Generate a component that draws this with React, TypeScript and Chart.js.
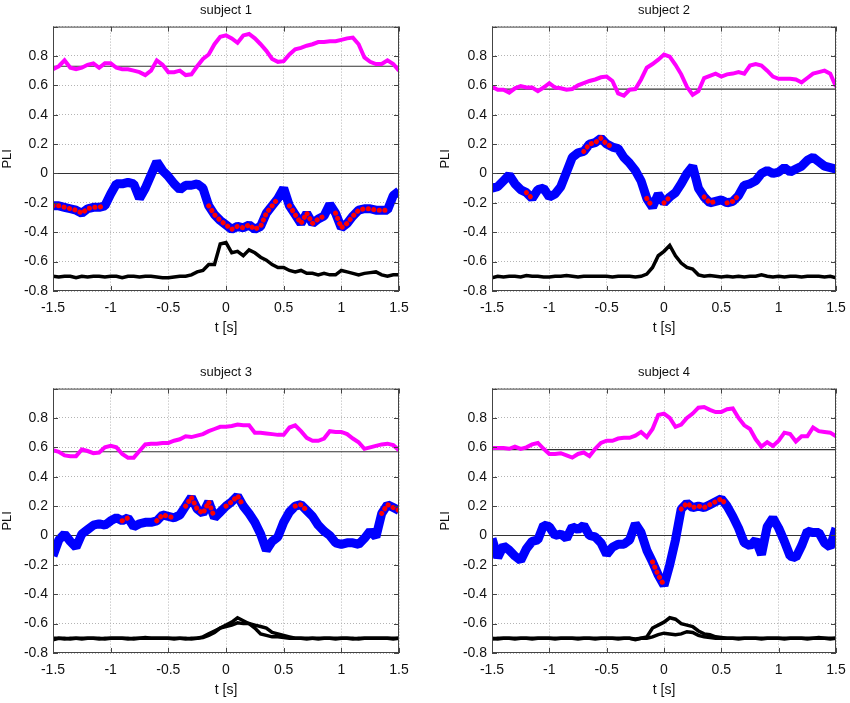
import { useEffect, useRef } from "react"
import { Chart, registerables } from "chart.js"

Chart.register(...registerables)

// time axis [s]
const T = [
  -1.5, -1.45, -1.4, -1.35, -1.3, -1.25, -1.2, -1.15, -1.1, -1.05,
  -1, -0.95, -0.9, -0.85, -0.8, -0.75, -0.7, -0.65, -0.6, -0.55,
  -0.5, -0.45, -0.4, -0.35, -0.3, -0.25, -0.2, -0.15, -0.1, -0.05,
  0, 0.05, 0.1, 0.15, 0.2, 0.25, 0.3, 0.35, 0.4, 0.45,
  0.5, 0.55, 0.6, 0.65, 0.7, 0.75, 0.8, 0.85, 0.9, 0.95,
  1, 1.05, 1.1, 1.15, 1.2, 1.25, 1.3, 1.35, 1.4, 1.45, 1.5,
]

// subject 1
const s1Upper = [
  0.71, 0.73, 0.77, 0.72, 0.71, 0.72, 0.74, 0.75, 0.72, 0.75,
  0.75, 0.72, 0.71, 0.71, 0.70, 0.69, 0.67, 0.70, 0.77, 0.74,
  0.69, 0.69, 0.70, 0.67, 0.675, 0.73, 0.78, 0.81, 0.88, 0.93,
  0.94, 0.92, 0.89, 0.94, 0.95, 0.92, 0.88, 0.835, 0.78, 0.76,
  0.765, 0.81, 0.845, 0.855, 0.87, 0.88, 0.895, 0.895, 0.9, 0.9,
  0.91, 0.92, 0.925, 0.88, 0.79, 0.76, 0.745, 0.745, 0.77, 0.745, 0.70,
]
const s1Pli = [
  -0.22, -0.22, -0.23, -0.24, -0.25, -0.27, -0.24, -0.23, -0.23, -0.22,
  -0.14, -0.07, -0.07, -0.06, -0.07, -0.17, -0.10, -0.01, 0.08, 0.02,
  -0.02, -0.07, -0.11, -0.08, -0.08, -0.07, -0.10, -0.22, -0.28, -0.32,
  -0.35, -0.38, -0.36, -0.37, -0.35, -0.38, -0.36, -0.27, -0.22, -0.17,
  -0.10, -0.22, -0.28, -0.34, -0.27, -0.34, -0.31, -0.29, -0.21, -0.27,
  -0.37, -0.34, -0.29, -0.25, -0.24, -0.24, -0.25, -0.25, -0.25, -0.15, -0.12,
]
const s1Lower = [
  -0.70, -0.705, -0.70, -0.70, -0.71, -0.70, -0.705, -0.70, -0.70, -0.705,
  -0.70, -0.70, -0.71, -0.70, -0.70, -0.705, -0.70, -0.70, -0.705, -0.71,
  -0.71, -0.705, -0.70, -0.70, -0.69, -0.67, -0.66, -0.62, -0.62, -0.48,
  -0.47, -0.54, -0.53, -0.56, -0.52, -0.54, -0.57, -0.59, -0.62, -0.64,
  -0.64, -0.66, -0.67, -0.66, -0.68, -0.68, -0.69, -0.68, -0.69, -0.69,
  -0.66, -0.67, -0.68, -0.69, -0.68, -0.675, -0.67, -0.69, -0.70, -0.69, -0.69,
]
const s1Sig = [[-1.5, -1.05], [-0.15, 0.45], [0.55, 0.85], [0.95, 1.4]]

// subject 2
const s2Upper = [
  0.59, 0.57, 0.57, 0.55, 0.58, 0.595, 0.585, 0.585, 0.56, 0.585,
  0.615, 0.585, 0.58, 0.57, 0.575, 0.60, 0.615, 0.63, 0.64, 0.655,
  0.66, 0.63, 0.545, 0.53, 0.57, 0.575, 0.64, 0.72, 0.745, 0.775,
  0.81, 0.795, 0.74, 0.675, 0.59, 0.535, 0.56, 0.65, 0.665, 0.68,
  0.66, 0.675, 0.68, 0.69, 0.68, 0.735, 0.745, 0.735, 0.70, 0.66,
  0.645, 0.645, 0.645, 0.64, 0.62, 0.65, 0.68, 0.69, 0.70, 0.68, 0.59,
]
const s2Pli = [
  -0.10, -0.09, -0.05, -0.01, -0.07, -0.11, -0.13, -0.17, -0.11, -0.10,
  -0.16, -0.14, -0.09, 0.01, 0.11, 0.14, 0.15, 0.20, 0.21, 0.24,
  0.20, 0.18, 0.17, 0.11, 0.07, 0.02, -0.05, -0.17, -0.23, -0.14,
  -0.20, -0.16, -0.13, -0.07, 0.0, 0.05, -0.10, -0.16, -0.20, -0.19,
  -0.18, -0.20, -0.19, -0.15, -0.08, -0.07, -0.05, 0.0, 0.02, 0.0,
  0.01, 0.04, 0.01, 0.03, 0.05, 0.09, 0.11, 0.08, 0.05, 0.04, 0.03,
]
const s2Lower = [
  -0.71, -0.70, -0.705, -0.70, -0.70, -0.705, -0.695, -0.70, -0.70, -0.705,
  -0.705, -0.70, -0.70, -0.695, -0.70, -0.705, -0.70, -0.70, -0.70, -0.70,
  -0.70, -0.705, -0.70, -0.70, -0.70, -0.705, -0.70, -0.685, -0.64, -0.56,
  -0.53, -0.49, -0.56, -0.61, -0.64, -0.65, -0.69, -0.70, -0.695, -0.70,
  -0.705, -0.70, -0.705, -0.70, -0.705, -0.70, -0.70, -0.69, -0.70, -0.705,
  -0.70, -0.705, -0.70, -0.70, -0.705, -0.70, -0.70, -0.70, -0.705, -0.70, -0.71,
]
const s2Sig = [[-1.2, -1.15], [-0.7, -0.45], [-0.15, -0.1], [0, 0.05], [0.35, 0.45], [0.55, 0.65]]

// subject 3
const s3Upper = [
  0.58, 0.57, 0.545, 0.54, 0.54, 0.585, 0.575, 0.56, 0.565, 0.60,
  0.61, 0.60, 0.555, 0.53, 0.53, 0.575, 0.62, 0.625, 0.625, 0.63,
  0.63, 0.645, 0.655, 0.675, 0.67, 0.68, 0.69, 0.71, 0.725, 0.74,
  0.74, 0.745, 0.755, 0.75, 0.75, 0.70, 0.70, 0.695, 0.69, 0.685,
  0.685, 0.735, 0.75, 0.71, 0.665, 0.645, 0.645, 0.66, 0.71, 0.705,
  0.705, 0.69, 0.66, 0.635, 0.59, 0.60, 0.61, 0.62, 0.625, 0.615, 0.58,
]
const s3Pli = [
  -0.14, -0.03, 0.01, -0.04, -0.08, 0.01, 0.04, 0.07, 0.08, 0.07,
  0.10, 0.12, 0.10, 0.12, 0.06, 0.08, 0.09, 0.09, 0.10, 0.14,
  0.13, 0.12, 0.14, 0.20, 0.26, 0.18, 0.15, 0.23, 0.12, 0.16,
  0.20, 0.23, 0.27, 0.20, 0.15, 0.09, 0.01, -0.10, -0.04, -0.01,
  0.09, 0.16, 0.20, 0.21, 0.17, 0.13, 0.07, 0.03, 0.0, -0.05,
  -0.06, -0.05, -0.05, -0.06, -0.02, 0.03, -0.01, 0.15, 0.21, 0.19, 0.17,
]
const s3Lower = [
  -0.71, -0.70, -0.705, -0.70, -0.70, -0.705, -0.70, -0.70, -0.70, -0.705,
  -0.70, -0.70, -0.70, -0.705, -0.70, -0.70, -0.695, -0.70, -0.70, -0.70,
  -0.70, -0.705, -0.70, -0.70, -0.705, -0.70, -0.695, -0.68, -0.66, -0.63,
  -0.61, -0.59, -0.56, -0.58, -0.60, -0.63, -0.67, -0.68, -0.69, -0.69,
  -0.695, -0.70, -0.70, -0.70, -0.705, -0.70, -0.70, -0.70, -0.70, -0.705,
  -0.70, -0.70, -0.70, -0.705, -0.70, -0.70, -0.70, -0.70, -0.70, -0.705, -0.70,
]
const s3Lower2 = [
  -0.70, -0.70, -0.70, -0.705, -0.70, -0.70, -0.70, -0.70, -0.705, -0.70,
  -0.70, -0.70, -0.70, -0.70, -0.705, -0.70, -0.70, -0.70, -0.70, -0.70,
  -0.70, -0.70, -0.70, -0.705, -0.70, -0.70, -0.69, -0.67, -0.65, -0.63,
  -0.62, -0.61, -0.595, -0.60, -0.60, -0.61, -0.62, -0.63, -0.66, -0.67,
  -0.68, -0.69, -0.70, -0.70, -0.70, -0.70, -0.705, -0.70, -0.70, -0.70,
  -0.70, -0.70, -0.705, -0.70, -0.70, -0.70, -0.70, -0.70, -0.70, -0.70, -0.70,
]
const s3Sig = [[-0.9, -0.85], [-0.6, -0.55], [-0.5, -0.45], [-0.35, -0.25], [-0.2, -0.1], [0, 0.15], [0.6, 0.7], [1.35, 1.5]]

// subject 4
const s4Upper = [
  0.595, 0.595, 0.595, 0.59, 0.605, 0.59, 0.60, 0.62, 0.63, 0.59,
  0.555, 0.555, 0.56, 0.545, 0.53, 0.555, 0.565, 0.54, 0.59, 0.63,
  0.645, 0.645, 0.66, 0.665, 0.665, 0.68, 0.705, 0.67, 0.725, 0.82,
  0.83, 0.80, 0.74, 0.755, 0.80, 0.83, 0.87, 0.875, 0.855, 0.84,
  0.84, 0.86, 0.865, 0.80, 0.75, 0.725, 0.655, 0.605, 0.635, 0.61,
  0.645, 0.70, 0.69, 0.64, 0.675, 0.675, 0.735, 0.71, 0.705, 0.70, 0.675,
]
const s4Pli = [
  -0.02, -0.15, -0.07, -0.10, -0.14, -0.17, -0.09, -0.04, -0.03, 0.07,
  0.06, 0.0, 0.01, -0.02, 0.06, 0.04, 0.07, 0.0, -0.01, -0.05,
  -0.13, -0.08, -0.06, -0.06, -0.03, 0.08, 0.02, -0.10, -0.18, -0.27,
  -0.34, -0.20, -0.03, 0.18, 0.22, 0.19, 0.20, 0.19, 0.21, 0.23,
  0.25, 0.20, 0.13, 0.05, -0.05, -0.07, -0.03, -0.13, 0.06, 0.12,
  0.05, -0.04, -0.14, -0.15, -0.07, 0.03, 0.02, 0.02, -0.05, -0.08, 0.05,
]
const s4Lower = [
  -0.70, -0.705, -0.70, -0.70, -0.705, -0.70, -0.70, -0.705, -0.70, -0.70,
  -0.70, -0.705, -0.70, -0.70, -0.70, -0.705, -0.70, -0.70, -0.705, -0.70,
  -0.70, -0.70, -0.705, -0.70, -0.70, -0.71, -0.70, -0.69, -0.63, -0.61,
  -0.59, -0.56, -0.57, -0.60, -0.61, -0.62, -0.65, -0.67, -0.675, -0.69,
  -0.695, -0.70, -0.70, -0.705, -0.70, -0.70, -0.70, -0.705, -0.70, -0.70,
  -0.70, -0.705, -0.70, -0.70, -0.70, -0.705, -0.70, -0.695, -0.70, -0.705, -0.70,
]
const s4Lower2 = [
  -0.705, -0.70, -0.70, -0.70, -0.70, -0.70, -0.70, -0.70, -0.70, -0.70,
  -0.70, -0.70, -0.70, -0.70, -0.70, -0.70, -0.70, -0.70, -0.70, -0.70,
  -0.70, -0.70, -0.70, -0.70, -0.70, -0.705, -0.70, -0.70, -0.69, -0.675,
  -0.665, -0.67, -0.675, -0.67, -0.655, -0.66, -0.68, -0.69, -0.695, -0.70,
  -0.70, -0.70, -0.70, -0.70, -0.70, -0.70, -0.70, -0.70, -0.70, -0.70,
  -0.70, -0.70, -0.70, -0.70, -0.70, -0.70, -0.70, -0.70, -0.70, -0.70, -0.70,
]
const s4Sig = [[-0.1, 0], [0.15, 0.55]]

const THRESHOLDS = [0.73, 0.575, 0.57, 0.585]
const TITLES = ["subject 1", "subject 2", "subject 3", "subject 4"]

interface PanelData {
  title: string
  upper: number[]
  pli: number[]
  lower: number[][]
  threshold: number
  sig: number[][]
}

const PANELS: PanelData[] = [
  { title: TITLES[0], upper: s1Upper, pli: s1Pli, lower: [s1Lower], threshold: THRESHOLDS[0], sig: s1Sig },
  { title: TITLES[1], upper: s2Upper, pli: s2Pli, lower: [s2Lower], threshold: THRESHOLDS[1], sig: s2Sig },
  { title: TITLES[2], upper: s3Upper, pli: s3Pli, lower: [s3Lower, s3Lower2], threshold: THRESHOLDS[2], sig: s3Sig },
  { title: TITLES[3], upper: s4Upper, pli: s4Pli, lower: [s4Lower, s4Lower2], threshold: THRESHOLDS[3], sig: s4Sig },
]

const FONT = "'Liberation Sans', Arial, Helvetica, sans-serif"

const toPoints = (values: number[]) => T.map((t, i) => ({ x: t, y: values[i] }))

const sigPoints = (values: number[], sig: number[][]) =>
  T.map((t, i) => ({
    x: t,
    y: sig.some(([a, b]) => t >= a - 1e-9 && t <= b + 1e-9) ? values[i] : null,
  }))

const fmt = (v: number) => String(Math.round(v * 10) / 10)

// gnuplot-like frame with inward ticks on all four sides
const framePlugin = {
  id: "frame",
  afterDatasetsDraw(chart: any) {
    const { ctx, chartArea: a, scales } = chart
    ctx.save()
    ctx.strokeStyle = "#444"
    ctx.lineWidth = 1
    ctx.strokeRect(a.left + 0.5, a.top + 0.5, a.right - a.left - 1, a.bottom - a.top - 1)
    ctx.beginPath()
    for (const t of scales.x.ticks) {
      const px = Math.round(scales.x.getPixelForValue(t.value)) + 0.5
      ctx.moveTo(px, a.bottom)
      ctx.lineTo(px, a.bottom - 5)
      ctx.moveTo(px, a.top)
      ctx.lineTo(px, a.top + 5)
    }
    for (const t of scales.y.ticks) {
      const py = Math.round(scales.y.getPixelForValue(t.value)) + 0.5
      ctx.moveTo(a.left, py)
      ctx.lineTo(a.left + 5, py)
      ctx.moveTo(a.right, py)
      ctx.lineTo(a.right - 5, py)
    }
    ctx.stroke()
    ctx.restore()
  },
}

function Panel({ data, col }: { data: PanelData; col: number }) {
  const canvasRef = useRef<HTMLCanvasElement>(null)

  useEffect(() => {
    if (!canvasRef.current) return
    const yWidth = col === 0 ? 53 : 67
    const flat = (v: number) => [{ x: T[0], y: v }, { x: T[T.length - 1], y: v }]

    const datasets: any[] = [
      {
        data: sigPoints(data.pli, data.sig),
        borderColor: "#ff0000",
        borderWidth: 5,
        borderDash: [0.1, 5.5],
        borderCapStyle: "round",
        spanGaps: false,
        order: 0,
      },
      {
        data: toPoints(data.pli),
        borderColor: "#0000ff",
        borderWidth: 9,
        borderJoinStyle: "bevel",
        order: 1,
      },
      ...data.lower.map((l) => ({
        data: toPoints(l),
        borderColor: "#000000",
        borderWidth: 3.5,
        order: 2,
      })),
      {
        data: toPoints(data.upper),
        borderColor: "#ff00ff",
        borderWidth: 4,
        order: 3,
      },
      { data: flat(data.threshold), borderColor: "#333", borderWidth: 1.2, order: 4 },
      { data: flat(0), borderColor: "#333", borderWidth: 1.2, order: 4 },
    ]

    const chart = new Chart(canvasRef.current, {
      type: "line",
      data: { datasets },
      plugins: [framePlugin],
      options: {
        animation: false,
        responsive: false,
        events: [],
        layout: { padding: { left: 0, right: col === 0 ? 26 : 14, top: 0, bottom: 4 } },
        elements: { point: { radius: 0 }, line: { tension: 0 } },
        plugins: {
          legend: { display: false },
          tooltip: { enabled: false },
          title: {
            display: true,
            text: data.title,
            fullSize: false,
            color: "#111",
            font: { family: FONT, size: 13, weight: "normal" },
            padding: { top: 3, bottom: 8 },
          },
        },
        scales: {
          x: {
            type: "linear",
            min: -1.5,
            max: 1.5,
            ticks: {
              stepSize: 0.5,
              autoSkip: false,
              maxRotation: 0,
              padding: 9,
              color: "#111",
              font: { family: FONT, size: 14 },
              callback: (v: any) => fmt(Number(v)),
            },
            grid: { color: "#b4b4b4", lineWidth: 1, drawTicks: false },
            border: { display: false, dash: [1, 2] },
            title: {
              display: true,
              text: "t [s]",
              color: "#111",
              font: { family: FONT, size: 14 },
              padding: 0,
            },
            afterFit: (s: any) => {
              s.height = 46
              s.paddingLeft = 0
              s.paddingRight = 0
            },
          },
          y: {
            type: "linear",
            min: -0.8,
            max: 1.0,
            ticks: {
              stepSize: 0.2,
              autoSkip: false,
              padding: 5,
              color: "#111",
              font: { family: FONT, size: 14 },
              callback: (v: any) => (Math.abs(Number(v) - 1) < 1e-6 ? "" : fmt(Number(v))),
            },
            grid: { color: "#b4b4b4", lineWidth: 1, drawTicks: false },
            border: { display: false, dash: [1, 2] },
            title: {
              display: true,
              text: "PLI",
              color: "#111",
              font: { family: FONT, size: 13 },
              padding: { top: col === 0 ? 0 : 13, bottom: 0 },
            },
            afterFit: (s: any) => {
              s.width = yWidth
              s.paddingTop = 0
              s.paddingBottom = 0
            },
          },
        },
      } as any,
    })

    return () => chart.destroy()
  }, [data, col])

  return <canvas ref={canvasRef} width={425} height={341} style={{ display: "block" }} />
}

export default function App() {
  const spots = [
    [0, 0],
    [425, 0],
    [0, 362],
    [425, 362],
  ]
  return (
    <div style={{ position: "absolute", left: 0, top: 0, width: 850, height: 703, background: "#fff", overflow: "hidden" }}>
      {PANELS.map((p, i) => (
        <div key={p.title} style={{ position: "absolute", left: spots[i][0], top: spots[i][1] }}>
          <Panel data={p} col={i % 2} />
        </div>
      ))}
    </div>
  )
}
